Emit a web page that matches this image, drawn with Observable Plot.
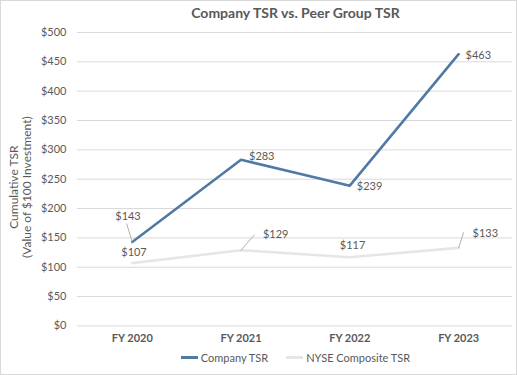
<!DOCTYPE html>
<html>
<head>
<meta charset="utf-8">
<script src="https://cdn.jsdelivr.net/npm/d3@7"></script>
<script src="https://cdn.jsdelivr.net/npm/@observablehq/plot@0.6"></script>
<style>
  html, body { margin: 0; padding: 0; background: #fff; }
  #wrap { width: 517px; height: 375px; box-sizing: border-box; border: 1px solid #d9d9d9; position: relative; font-family: Lato, "Open Sans", sans-serif; overflow: hidden; }
  #title { position: absolute; top: 3px; left: 76px; width: 437px; text-align: center; font-weight: bold; font-size: 14px; color: #595959; }
  #chart { position: absolute; top: 21px; left: -1px; }
  #legend { position: absolute; top: 350px; left: 76px; width: 437px; display: flex; justify-content: center; font-size: 11px; color: #595959; }
  .item { display: flex; align-items: center; margin: 0 9px; }
  .sw { width: 17px; height: 3px; margin-right: 3px; }
</style>
</head>
<body>
<div id="wrap">
  <div id="title">Company TSR vs. Peer Group TSR</div>
  <div id="chart"></div>
  <div id="legend"></div>
</div>
<script>
const years = ["FY 2020", "FY 2021", "FY 2022", "FY 2023"];
const companyTSR = [143, 283, 239, 463];
const nyseTSR = [107, 129, 117, 133];
const yTicks = [0, 50, 100, 150, 200, 250, 300, 350, 400, 450, 500];
const seriesNames = ["Company TSR", "NYSE Composite TSR"];
const yTitle = "Cumulative TSR\n(Value of $100 Investment)";

const colors = {"Company TSR": "#5079a5", "NYSE Composite TSR": "#e6e6e6"};
const rows = [];
years.forEach((yr, i) => {
  rows.push({year: yr, series: seriesNames[0], value: companyTSR[i], i});
  rows.push({year: yr, series: seriesNames[1], value: nyseTSR[i], i});
});

// label placement (offsets in px from each point)
const labelOffsets = {
  "Company TSR": [[-17, -26], [8, -3], [7, 1], [7, 1]],
  "NYSE Composite TSR": [[-11, -11], [22, -16], [-10, -12], [14, -14]]
};
// leader lines: [series, index, length, rotate]
const leaders = [
  ["Company TSR", 0, 19, 343],
  ["NYSE Composite TSR", 1, 20, 41],
  ["NYSE Composite TSR", 3, 16, 18]
];
const leaderShape = { draw(context, l) { context.moveTo(0, 0); context.lineTo(0, -l); } };

const labelMarks = rows.map(d => {
  const [dx, dy] = labelOffsets[d.series][d.i];
  return Plot.text([d], {x: "year", y: "value", text: r => "$" + r.value, dx, dy,
    textAnchor: "start", fill: "#595959", fontSize: 11});
});
const leaderMarks = leaders.map(([s, i, len, rot]) => {
  const d = rows.find(r => r.series === s && r.i === i);
  return Plot.vector([d], {x: "year", y: "value", length: () => len, rotate: rot, anchor: "start",
    shape: leaderShape, stroke: "#a6a6a6", strokeWidth: 0.8});
});

const plot = Plot.plot({
  width: 517,
  height: 330,
  marginLeft: 77,
  marginRight: 4,
  marginTop: 10,
  marginBottom: 28,
  style: {fontFamily: "Lato, 'Open Sans', sans-serif", background: "transparent"},
  x: {type: "point", domain: years, padding: 0.5},
  y: {domain: [0, 500], range: [304, 10]},
  length: {type: "identity"},
  marks: [
    Plot.ruleY(yTicks, {stroke: "#d9d9d9", strokeWidth: 1}),
    Plot.axisY({ticks: yTicks, tickFormat: d => "$" + d, tickSize: 0, tickPadding: 11, fontSize: 11, fill: "#595959", label: null}),
    Plot.text([yTitle], {frameAnchor: "left", textAnchor: "middle", rotate: -90, dx: -57, dy: 9, fontSize: 12, lineHeight: 1.12, fill: "#595959"}),
    Plot.axisX({tickSize: 0, tickPadding: 10, fontSize: 11, fontWeight: "bold", fill: "#595959", label: null}),
    Plot.line(rows.filter(d => d.series === seriesNames[1]), {x: "year", y: "value", stroke: colors[seriesNames[1]], strokeWidth: 2.6}),
    Plot.line(rows.filter(d => d.series === seriesNames[0]), {x: "year", y: "value", stroke: colors[seriesNames[0]], strokeWidth: 2.6}),
    ...leaderMarks,
    ...labelMarks
  ]
});
document.getElementById("chart").appendChild(plot);

const legend = document.getElementById("legend");
seriesNames.forEach(s => {
  const it = document.createElement("div");
  it.className = "item";
  it.innerHTML = `<span class="sw" style="background:${colors[s]}"></span><span>${s}</span>`;
  legend.appendChild(it);
});
</script>
</body>
</html>
